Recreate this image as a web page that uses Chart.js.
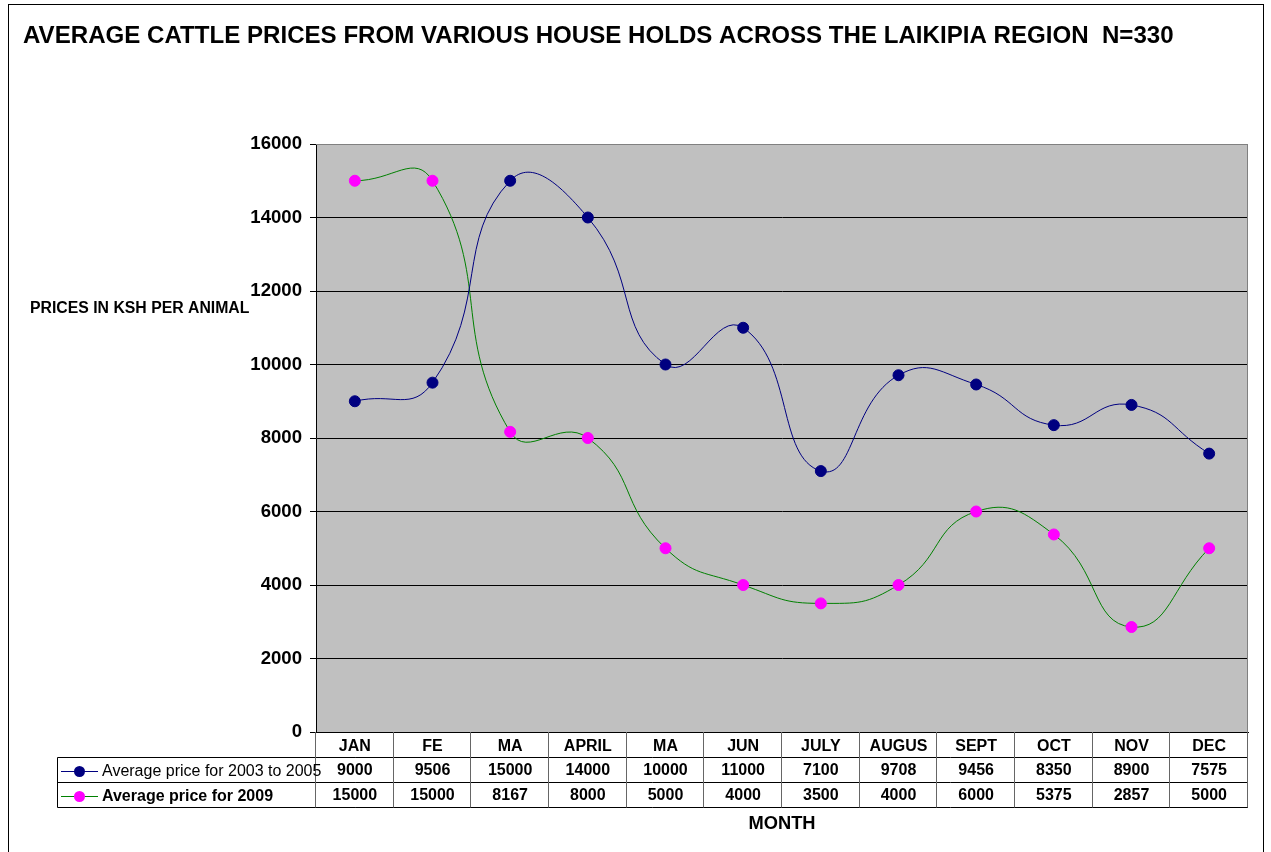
<!DOCTYPE html>
<html>
<head>
<meta charset="utf-8">
<script src="https://cdn.jsdelivr.net/npm/chart.js@4.4.1/dist/chart.umd.min.js"></script>
<style>
  html, body { margin: 0; padding: 0; background: #fff; }
  canvas { display: block; }
</style>
</head>
<body>
<canvas id="c" width="1271" height="852"></canvas>
<script>
// ---- data ----
const months = ['JAN', 'FE', 'MA', 'APRIL', 'MA', 'JUN', 'JULY', 'AUGUS', 'SEPT', 'OCT', 'NOV', 'DEC'];
const avg2003to2005 = [9000, 9506, 15000, 14000, 10000, 11000, 7100, 9708, 9456, 8350, 8900, 7575];
const avg2009 = [15000, 15000, 8167, 8000, 5000, 4000, 3500, 4000, 6000, 5375, 2857, 5000];
const seriesNames = ['Average price for 2003 to 2005', 'Average price for 2009'];
const yMin = 0, yMax = 16000, yStep = 2000;
const titleText = 'AVERAGE CATTLE PRICES FROM VARIOUS HOUSE HOLDS ACROSS THE LAIKIPIA REGION  N=330';
const yTitleText = 'PRICES IN KSH PER ANIMAL';
const xTitleText = 'MONTH';

const FONT = "'Liberation Sans', Arial, Helvetica, sans-serif";
const BLUE = '#000080', GREEN = '#008000', MAGENTA = '#FF00FF';

const decorPlugin = {
  id: 'decor',
  beforeDraw(chart) {
    const ctx = chart.ctx, a = chart.chartArea;
    ctx.save();
    ctx.fillStyle = '#ffffff';
    ctx.fillRect(0, 0, chart.width, chart.height);
    ctx.fillStyle = '#C0C0C0';
    ctx.fillRect(a.left, a.top, a.right - a.left, a.bottom - a.top);
    ctx.restore();
  },
  afterDraw(chart) {
    const ctx = chart.ctx, a = chart.chartArea;
    const xs = chart.scales.x;
    ctx.save();
    // outer frame
    ctx.strokeStyle = '#000';
    ctx.lineWidth = 1;
    ctx.strokeRect(8.5, 4.5, 1255, 900);
    // plot border top/right
    ctx.strokeStyle = '#808080';
    ctx.beginPath();
    ctx.moveTo(a.left, a.top + 0.5); ctx.lineTo(a.right, a.top + 0.5);
    ctx.moveTo(a.right - 0.5, a.top); ctx.lineTo(a.right - 0.5, a.bottom);
    ctx.stroke();

    // title
    ctx.fillStyle = '#000';
    ctx.textBaseline = 'middle';
    ctx.textAlign = 'left';
    ctx.font = 'bold 24.1px ' + FONT;
    ctx.fillText(titleText, 23, 36);
    // y title (horizontal)
    ctx.font = 'bold 15.8px ' + FONT;
    ctx.fillText(yTitleText, 30, 309);
    // x title
    ctx.textAlign = 'center';
    ctx.font = 'bold 18.3px ' + FONT;
    ctx.fillText(xTitleText, (a.left + a.right) / 2, 824);

    // data table
    const rowTop = a.bottom, r1 = 757.5, r2 = 782.5, r3 = 807.5;
    const legLeft = 57.5;
    const colW = xs.getPixelForValue(1) - xs.getPixelForValue(0);
    ctx.strokeStyle = '#000';
    ctx.beginPath();
    ctx.moveTo(legLeft, r1); ctx.lineTo(a.right, r1);
    ctx.moveTo(legLeft, r2); ctx.lineTo(a.right, r2);
    ctx.moveTo(legLeft, r3); ctx.lineTo(a.right, r3);
    ctx.moveTo(legLeft, r1); ctx.lineTo(legLeft, r3);
    ctx.stroke();
    ctx.strokeStyle = '#666';
    ctx.beginPath();
    for (let i = 0; i <= months.length; i++) {
      const x = Math.round(xs.getPixelForValue(0) - colW / 2 + i * colW) - 0.5;
      ctx.moveTo(x, rowTop); ctx.lineTo(x, r3);
    }
    ctx.stroke();

    // values
    ctx.fillStyle = '#000';
    ctx.font = 'bold 16px ' + FONT;
    ctx.textAlign = 'center';
    const rows = [avg2003to2005, avg2009];
    const ys = [771, 796];
    rows.forEach((vals, r) => {
      vals.forEach((v, i) => {
        ctx.fillText(String(v), xs.getPixelForValue(i), ys[r]);
      });
    });

    // legend keys
    const cols = [[BLUE, BLUE], [GREEN, MAGENTA]];
    rows.forEach((_, r) => {
      const y = ys[r];
      ctx.strokeStyle = cols[r][0];
      ctx.lineWidth = 1;
      ctx.beginPath();
      ctx.moveTo(61, y + 0.5); ctx.lineTo(98, y + 0.5);
      ctx.stroke();
      ctx.fillStyle = cols[r][1];
      ctx.beginPath();
      ctx.arc(79.5, y + 0.5, 5.5, 0, Math.PI * 2);
      ctx.fill();
      ctx.fillStyle = '#000';
      ctx.textAlign = 'left';
      ctx.font = (r === 1 ? 'bold ' : '') + '16px ' + FONT;
      ctx.fillText(seriesNames[r], 102, y + 1);
    });
    ctx.restore();
  }
};

new Chart(document.getElementById('c'), {
  type: 'line',
  data: {
    labels: months,
    datasets: [
      {
        label: seriesNames[0],
        data: avg2003to2005,
        borderColor: BLUE,
        backgroundColor: BLUE,
        pointBackgroundColor: BLUE,
        pointBorderColor: BLUE,
        borderWidth: 1,
        pointRadius: 5.5,
        tension: 0.5,
        fill: false
      },
      {
        label: seriesNames[1],
        data: avg2009,
        borderColor: GREEN,
        backgroundColor: MAGENTA,
        pointBackgroundColor: MAGENTA,
        pointBorderColor: MAGENTA,
        borderWidth: 1,
        pointRadius: 5.5,
        tension: 0.5,
        fill: false
      }
    ]
  },
  options: {
    responsive: false,
    animation: false,
    events: [],
    layout: { padding: { left: 0, right: 23, top: 144, bottom: 0 } },
    plugins: { legend: { display: false }, title: { display: false }, tooltip: { enabled: false } },
    scales: {
      x: {
        type: 'category',
        offset: true,
        grid: { display: false, drawTicks: false },
        border: { display: true, color: '#000' },
        ticks: {
          color: '#000',
          font: { family: FONT, size: 16, weight: 'bold' },
          padding: 5,
          maxRotation: 0,
          autoSkip: false
        },
        afterFit(s) { s.height = 120; }
      },
      y: {
        min: yMin,
        max: yMax,
        grid: {
          color: (c) => (c.tick && c.tick.value === yMax ? '#808080' : '#000'),
          tickColor: '#000',
          tickLength: 6,
          drawTicks: true
        },
        border: { display: true, color: '#000' },
        ticks: {
          stepSize: yStep,
          color: '#000',
          font: { family: FONT, size: 18.6, weight: 'bold' },
          padding: 8,
          callback: (v) => String(v)
        },
        afterFit(s) { s.width = 316; }
      }
    }
  },
  plugins: [decorPlugin]
});
</script>
</body>
</html>
